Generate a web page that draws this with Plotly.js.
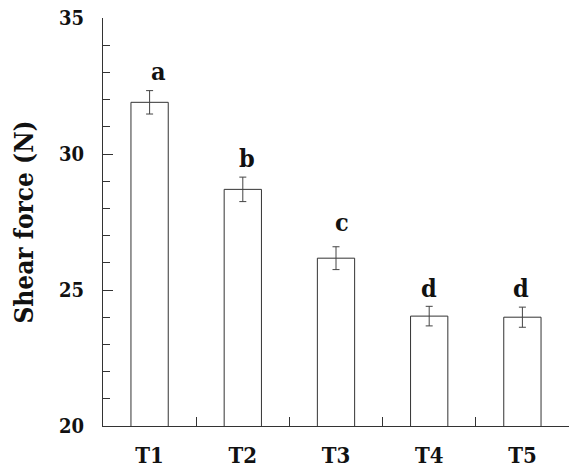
<!DOCTYPE html>
<html>
<head>
<meta charset="utf-8">
<script src="https://cdn.plot.ly/plotly-3.0.1.min.js"></script>
<style>html,body{margin:0;padding:0;background:#fff;}#chart{width:569px;height:469px;}</style>
</head>
<body>
<div id="chart"></div>
<script>
const categories = ["T1", "T2", "T3", "T4", "T5"];
const shearForce = [31.9, 28.7, 26.17, 24.04, 24.0];
const errors = [0.43, 0.45, 0.42, 0.36, 0.37];
const letters = ["a", "b", "c", "d", "d"];
const yTickVals = [20, 25, 30, 35];

const font = "DejaVu Serif Condensed, DejaVu Serif";
const axisColor = "#333333";

const trace = {
  type: "bar",
  x: categories,
  y: shearForce,
  width: 0.4,
  marker: { color: "#ffffff", line: { color: "#333333", width: 1 } },
  error_y: { type: "data", array: errors, visible: true, color: "#444444", thickness: 1, width: 3.5 },
  hoverinfo: "skip"
};

const xShifts = [9, 4, 6, 0, -1];
const yShifts = [3, 2, 8, 1, 2];
const annotations = categories.map((c, i) => ({
  x: c, y: shearForce[i] + errors[i], xref: "x", yref: "y",
  text: "<b>" + letters[i] + "</b>", showarrow: false,
  yanchor: "bottom", xanchor: "center", xshift: xShifts[i], yshift: yShifts[i],
  font: { family: font, size: 25, color: "#111111" }
}));

const layout = {
  width: 569, height: 469,
  margin: { l: 103, r: 0, t: 18, b: 43, pad: 0 },
  paper_bgcolor: "#ffffff", plot_bgcolor: "#ffffff",
  showlegend: false,
  font: { family: font },
  xaxis: {
    type: "category", range: [-0.5, 4.5],
    showline: true, linecolor: axisColor, linewidth: 1,
    ticks: "inside", tickson: "boundaries", ticklen: 9, tickcolor: axisColor, tickwidth: 1,
    showgrid: false, zeroline: false,
    tickfont: { family: font, size: 22, color: "#111111", weight: "bold" },
    ticklabelstandoff: 10
  },
  yaxis: {
    range: [20, 35], tickvals: yTickVals,
    showline: true, linecolor: axisColor, linewidth: 1,
    ticks: "inside", ticklen: 10, tickcolor: axisColor, tickwidth: 1,
    minor: { dtick: 1, ticks: "inside", ticklen: 7, tickcolor: axisColor, tickwidth: 1, showgrid: false },
    showgrid: false, zeroline: false,
    tickfont: { family: font, size: 20, color: "#111111", weight: "bold" },
    ticklabelstandoff: 14,
    title: { text: "<b>Shear force (N)</b>", font: { family: font, size: 26, color: "#111111" }, standoff: 17 }
  },
  annotations: annotations
};

Plotly.newPlot("chart", [trace], layout, { displayModeBar: false, staticPlot: true });
</script>
</body>
</html>
